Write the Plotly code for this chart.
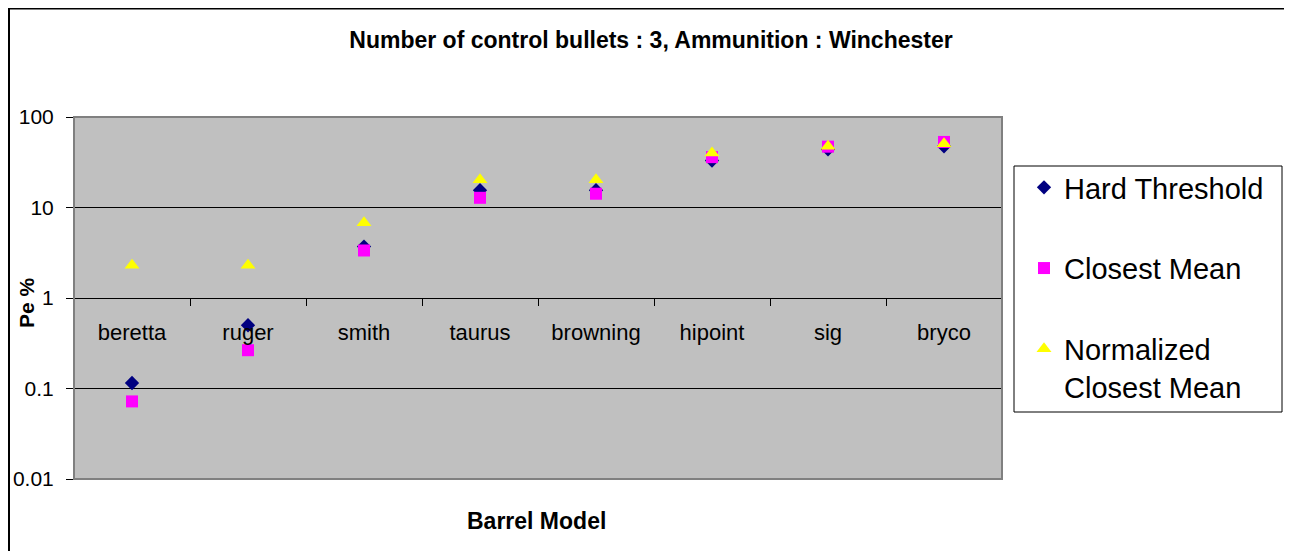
import plotly.graph_objects as go

categories = ["beretta", "ruger", "smith", "taurus", "browning", "hipoint", "sig", "bryco"]
hard_threshold = [0.115, 0.50, 3.7, 15.5, 15.5, 33, 44, 47.5]
closest_mean = [0.072, 0.265, 3.35, 12.8, 14.2, 36, 47, 53]
normalized_closest_mean = [2.3, 2.3, 6.8, 20.3, 20.3, 40, 47.5, 50.5]
y_tick_vals = [0.01, 0.1, 1, 10, 100]
y_tick_text = ["0.01", "0.1", "1", "10", "100"]

FONT = "Arial, Liberation Sans, sans-serif"
OFF = 8  # page body margin
W, H = 1276, 543
# plot area in screen pixels
SL, SR, ST, SB = 74, 1002, 117, 479
L, R, T, B = SL - OFF, SR - OFF, ST - OFF, SB - OFF
PW, PH = R - L, B - T


def px_x(p):
    return (p - OFF - L) / PW


def px_y(p):
    return (B - (p - OFF)) / PH


fig = go.Figure()
fig.add_trace(go.Scatter(
    x=categories, y=hard_threshold, mode="markers", name="Hard Threshold",
    legendgroup="a",
    marker=dict(symbol="diamond", size=11, color="#000080", line=dict(width=0))))
fig.add_trace(go.Scatter(
    x=categories, y=closest_mean, mode="markers", name="Closest Mean",
    legendgroup="b",
    marker=dict(symbol="square", size=12, color="#FF00FF", line=dict(width=0))))
fig.add_trace(go.Scatter(
    x=categories, y=normalized_closest_mean, mode="markers",
    name="Normalized<br>Closest Mean", legendgroup="c",
    marker=dict(symbol="triangle-up", size=13, color="#FFFF00", line=dict(width=0))))

fig.update_layout(
    width=W, height=H,
    margin=dict(l=L, r=W - R, t=T, b=H - B, pad=0, autoexpand=False),
    paper_bgcolor="white",
    plot_bgcolor="#C0C0C0",
    font=dict(family=FONT, color="black"),
    title=dict(text="<b>Number of control bullets : 3, Ammunition : Winchester</b>",
               x=(651 - OFF) / W, xref="container", xanchor="center",
               y=1 - (40 - OFF) / H, yref="container", yanchor="middle",
               font=dict(size=23, family=FONT, color="black")),
    showlegend=True,
    legend=dict(x=px_x(1024), y=px_y(162), xanchor="left", yanchor="top",
                bgcolor="rgba(0,0,0,0)", borderwidth=0, tracegroupgap=40,
                valign="top", itemwidth=30,
                font=dict(size=29, family=FONT, color="black")),
    xaxis=dict(
        type="category", range=[-0.5, 7.5],
        anchor="free", position=0.5,
        showline=True, linecolor="black", linewidth=1,
        ticks="outside", tickson="boundaries", ticklen=7, tickcolor="black",
        tickwidth=1,
        showgrid=False, zeroline=False, automargin=False,
        tickfont=dict(size=22, family=FONT, color="black"),
        ticklabelstandoff=15,
    ),
    yaxis=dict(
        type="log", range=[-2, 2],
        tickvals=y_tick_vals, ticktext=y_tick_text,
        showline=True, linecolor="black", linewidth=1,
        ticks="outside", ticklen=7, tickcolor="black",
        showgrid=True, gridcolor="black", gridwidth=1,
        zeroline=False, automargin=False,
        tickfont=dict(size=21, family=FONT, color="black"),
        ticklabelstandoff=8,
    ),
)

# outer chart border (top and left edges visible)
fig.add_shape(type="line", xref="paper", yref="paper",
              x0=px_x(8), x1=px_x(1300), y0=px_y(8.5), y1=px_y(8.5),
              line=dict(color="black", width=2), layer="below")
fig.add_shape(type="line", xref="paper", yref="paper",
              x0=px_x(9), x1=px_x(9), y0=px_y(8), y1=px_y(600),
              line=dict(color="black", width=2), layer="below")
# plot area border (gray)
fig.add_shape(type="rect", xref="paper", yref="paper", x0=0, x1=1, y0=0, y1=1,
              line=dict(color="#808080", width=2), fillcolor="rgba(0,0,0,0)",
              layer="above")
# legend box
fig.add_shape(type="rect", xref="paper", yref="paper",
              x0=px_x(1014), x1=px_x(1282), y0=px_y(412), y1=px_y(166),
              line=dict(color="black", width=1), fillcolor="white",
              layer="above")

fig.add_annotation(text="<b>Barrel Model</b>", xref="paper", yref="paper",
                   x=px_x(536), y=px_y(521), xanchor="center", yanchor="middle",
                   showarrow=False, font=dict(size=23, family=FONT, color="black"))
fig.add_annotation(text="<b>Pe %</b>", xref="paper", yref="paper",
                   x=px_x(26), y=px_y(303), xanchor="center", yanchor="middle",
                   textangle=-90, showarrow=False,
                   font=dict(size=21, family=FONT, color="black"))

fig.write_html("out.html")
